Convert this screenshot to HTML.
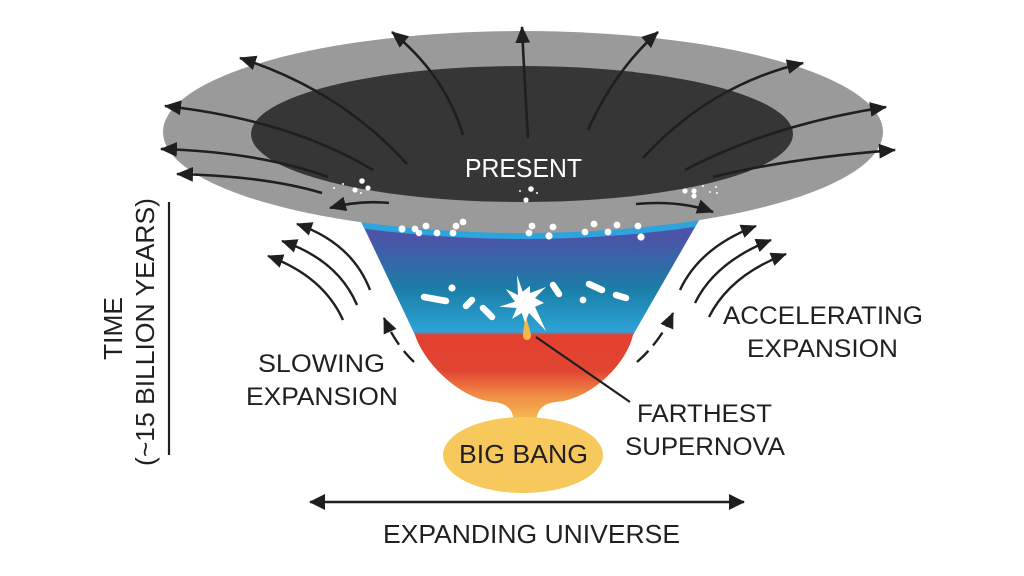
<!DOCTYPE html>
<html>
<head>
<meta charset="utf-8">
<style>
  html,body{margin:0;padding:0;background:#fff;}
  svg{display:block;}
  text{font-family:"Liberation Sans",sans-serif;fill:#231f20;}
</style>
</head>
<body>
<svg width="1024" height="576" viewBox="0 0 1024 576" xmlns="http://www.w3.org/2000/svg">
  <defs>
    <marker id="ah" viewBox="0 0 16 14" markerWidth="17" markerHeight="15" refX="15" refY="7" orient="auto" markerUnits="userSpaceOnUse">
      <path d="M0,0 L16,7 L0,14 Z" fill="#1f1f1f"/>
    </marker>
    <marker id="ah2" viewBox="0 0 16 14" markerWidth="16" markerHeight="14" refX="15" refY="7" orient="auto" markerUnits="userSpaceOnUse">
      <path d="M0,0 L16,7 L0,14 Z" fill="#1f1f1f"/>
    </marker>
    <marker id="ahb" viewBox="0 0 16 16" markerWidth="16" markerHeight="16" refX="15" refY="8" orient="auto-start-reverse" markerUnits="userSpaceOnUse">
      <path d="M0,0 L16,8 L0,16 Z" fill="#1f1f1f"/>
    </marker>
    <linearGradient id="fun" x1="0" y1="215" x2="0" y2="420" gradientUnits="userSpaceOnUse">
      <stop offset="0" stop-color="#4b54a8"/>
      <stop offset="0.12" stop-color="#4b55a8"/>
      <stop offset="0.36" stop-color="#1a7ea7"/>
      <stop offset="0.57" stop-color="#2ea3d7"/>
      <stop offset="0.585" stop-color="#e34030"/>
      <stop offset="0.76" stop-color="#e24532"/>
      <stop offset="0.88" stop-color="#f08c45"/>
      <stop offset="1" stop-color="#f6bb50"/>
    </linearGradient>
    <clipPath id="fclip">
      <path d="M358,215 L415,335 C425,365 462,400 495,402 C508,404 512,410 514,420 L536,420 C538,410 542,404 555,402 C590,400 626,365 633,335 L702,215 Z"/>
    </clipPath>
  </defs>

  <!-- funnel -->
  <path d="M358,215 L415,335 C425,365 462,400 495,402 C508,404 512,410 514,420 L536,420 C538,410 542,404 555,402 C590,400 626,365 633,335 L702,215 Z" fill="url(#fun)"/>
  <ellipse cx="523" cy="138" rx="360" ry="101" fill="#2fa3dc" clip-path="url(#fclip)"/>

  <!-- big bang -->
  <ellipse cx="523" cy="455" rx="80" ry="38" fill="#f7c95c"/>

  <!-- dish -->
  <ellipse cx="523" cy="132" rx="360" ry="101" fill="#9a9a9a"/>
  <ellipse cx="522" cy="134" rx="271" ry="68" fill="#363636"/>

  <!-- white dots on dish -->
  <g fill="#fff">
    <circle cx="402" cy="229" r="3.6"/><circle cx="415" cy="229" r="3.4"/><circle cx="426" cy="226" r="3.4"/>
    <circle cx="419" cy="233" r="3.2"/><circle cx="437" cy="233" r="3.4"/><circle cx="453" cy="233" r="3.4"/>
    <circle cx="456" cy="226" r="3.4"/><circle cx="463" cy="222" r="3.4"/>
    <circle cx="532" cy="226" r="3.4"/><circle cx="529" cy="233" r="3.4"/><circle cx="553" cy="227" r="3.4"/>
    <circle cx="549" cy="236" r="3.6"/><circle cx="585" cy="232" r="3.4"/><circle cx="594" cy="224" r="3.4"/>
    <circle cx="608" cy="232" r="3.4"/><circle cx="617" cy="225" r="3.4"/><circle cx="638" cy="226" r="3.4"/>
    <circle cx="641" cy="237" r="3.6"/>
    <circle cx="362" cy="181" r="2.8"/><circle cx="355" cy="190" r="2.6"/><circle cx="368" cy="188" r="2.6"/>
    <circle cx="343" cy="184" r="1"/><circle cx="334" cy="188" r="1"/><circle cx="361" cy="193" r="1"/>
    <circle cx="531" cy="189" r="2.8"/><circle cx="526" cy="200" r="2.6"/><circle cx="520" cy="191" r="1"/><circle cx="537" cy="193" r="1"/>
    <circle cx="685" cy="191" r="2.6"/><circle cx="694" cy="191" r="2.6"/><circle cx="694" cy="196" r="2.6"/>
    <circle cx="703" cy="186" r="1"/><circle cx="710" cy="192" r="1"/><circle cx="717" cy="193" r="1"/><circle cx="716" cy="187" r="1"/>
  </g>

  <!-- dish arrows -->
  <g fill="none" stroke="#1f1f1f" stroke-width="2.6" marker-end="url(#ah)">
    <path d="M407,164 Q340,90 240,58"/>
    <path d="M373,170 Q290,120 165,106"/>
    <path d="M328,177 Q260,152 161,149"/>
    <path d="M322,193 Q265,176 177,174"/>
    <path d="M389,203 Q360,200 330,208"/>
    <path d="M463,135 Q445,75 392,32"/>
    <path d="M528,138 Q524,70 522,27"/>
    <path d="M588,130 Q615,70 658,32"/>
    <path d="M643,158 Q710,85 803,63"/>
    <path d="M685,170 Q770,125 886,107"/>
    <path d="M713,177 Q790,158 895,150"/>
    <path d="M636,204 Q680,200 713,212"/>
  </g>

  <!-- side arrows -->
  <g fill="none" stroke="#1f1f1f" stroke-width="2.4" marker-end="url(#ah2)">
    <path d="M370,290 Q352,243 297,224"/>
    <path d="M357,305 Q338,260 282,241"/>
    <path d="M343,320 Q323,276 268,256"/>
    <path d="M680,290 Q700,247 756,226"/>
    <path d="M695,303 Q715,262 771,240"/>
    <path d="M709,317 Q730,275 786,254"/>
    <path d="M414,362 Q396,345 384,318" stroke-dasharray="15 8"/>
    <path d="M637,362 Q660,342 673,313" stroke-dasharray="16 7"/>
  </g>

  <!-- blue region dashes -->
  <g stroke="#fff" stroke-width="6.5" stroke-linecap="round" fill="none">
    <line x1="424" y1="297" x2="446" y2="301"/>
    <line x1="466" y1="306" x2="472" y2="300"/>
    <line x1="483" y1="308" x2="492" y2="317"/>
    <line x1="553" y1="285" x2="559" y2="294"/>
    <line x1="589" y1="284" x2="602" y2="290"/>
    <line x1="616" y1="295" x2="626" y2="298"/>
  </g>
  <g fill="#fff">
    <circle cx="452" cy="288" r="3.6"/>
    <circle cx="583" cy="300" r="3.4"/>
  </g>

  <!-- supernova -->
  <path d="M526,316 C528,325 531,332 531,336 A4,4 0 0 1 523,336 C523,332 524,325 526,316 Z" fill="#f5b74a"/>
  <polygon fill="#fff" points="517,275 522.7,291.7 530,285.7 530,293 546,287 535,298 544,303 535,306.7 546,331 529,313 525,322.7 521.7,313 512,319 516.7,308 499,306.7 515,301.7 505.7,289 518,295"/>
  <line x1="536" y1="337" x2="630" y2="402" stroke="#1f1f1f" stroke-width="2.2"/>

  <!-- bottom double arrow -->
  <line x1="310" y1="502" x2="744" y2="502" stroke="#1f1f1f" stroke-width="2.6" marker-start="url(#ahb)" marker-end="url(#ahb)"/>

  <!-- time axis -->
  <line x1="169" y1="202" x2="169" y2="455" stroke="#1f1f1f" stroke-width="2.2"/>

  <!-- labels -->
  <text x="465" y="177" font-size="26" textLength="117" lengthAdjust="spacingAndGlyphs" style="fill:#fff">PRESENT</text>
  <text x="258" y="372" font-size="25" textLength="127" lengthAdjust="spacingAndGlyphs">SLOWING</text>
  <text x="246" y="405" font-size="25" textLength="152" lengthAdjust="spacingAndGlyphs">EXPANSION</text>
  <text x="723" y="324" font-size="25" textLength="200" lengthAdjust="spacingAndGlyphs">ACCELERATING</text>
  <text x="747" y="357" font-size="25" textLength="151" lengthAdjust="spacingAndGlyphs">EXPANSION</text>
  <text x="637" y="422" font-size="25" textLength="135" lengthAdjust="spacingAndGlyphs">FARTHEST</text>
  <text x="625" y="455" font-size="25" textLength="160" lengthAdjust="spacingAndGlyphs">SUPERNOVA</text>
  <text x="459" y="463" font-size="26" textLength="129" lengthAdjust="spacingAndGlyphs">BIG BANG</text>
  <text x="383" y="543" font-size="26" textLength="297" lengthAdjust="spacingAndGlyphs">EXPANDING UNIVERSE</text>
  <text transform="translate(122,328.5) rotate(-90)" text-anchor="middle" font-size="26" textLength="63" lengthAdjust="spacingAndGlyphs">TIME</text>
  <text transform="translate(154,332) rotate(-90)" text-anchor="middle" font-size="26" textLength="268" lengthAdjust="spacingAndGlyphs">(~15 BILLION YEARS)</text>
</svg>
</body>
</html>
